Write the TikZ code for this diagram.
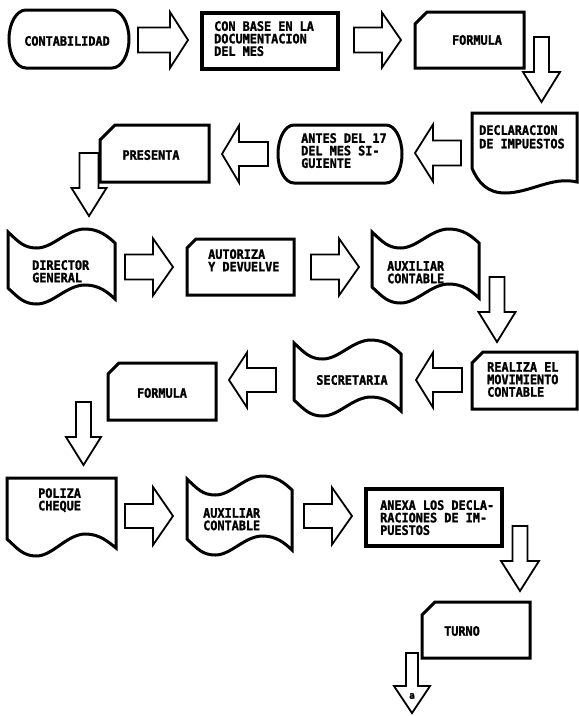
\documentclass[tikz,border=0pt]{standalone}
\usepackage{fontspec}
\newfontfamily\lblfont[FakeStretch=0.91, BoldFeatures={FakeBold=1.6}]{DejaVu Sans Mono}

% block arrow pointing left or right: tail x, head base x, tip x, centre y, shaft half width, head half width
\newcommand\blockH[6]{%
  \draw[arrowline] (#1,#4-#5) -- (#2,#4-#5) -- (#2,#4-#6) -- (#3,#4)
    -- (#2,#4+#6) -- (#2,#4+#5) -- (#1,#4+#5) -- cycle;}
% block arrow pointing down: centre x, tail y, head base y, tip y, shaft half width, head half width
\newcommand\blockV[6]{%
  \draw[arrowline] (#1-#5,#2) -- (#1-#5,#3) -- (#1-#6,#3) -- (#1,#4)
    -- (#1+#6,#3) -- (#1+#5,#3) -- (#1+#5,#2) -- cycle;}
% terminal: x1, y1, x2, y2, depth of the rounded ends
\newcommand\terminal[5]{%
  \pgfmathsetmacro\termym{(#2+#4)/2}
  \pgfmathsetmacro\termyk{0.552*(#4-#2)/2}
  \pgfmathsetmacro\termxk{0.552*#5}
  \draw[boxline] (#1+#5,#2) -- (#3-#5,#2)
    .. controls (#3-#5+\termxk,#2) and (#3,\termym-\termyk) .. (#3,\termym)
    .. controls (#3,\termym+\termyk) and (#3-#5+\termxk,#4) .. (#3-#5,#4)
    -- (#1+#5,#4)
    .. controls (#1+#5-\termxk,#4) and (#1,\termym+\termyk) .. (#1,\termym)
    .. controls (#1,\termym-\termyk) and (#1+#5-\termxk,#2) .. cycle;}
% card with the top left corner cut off: x1, y1, x2, y2, cut
\newcommand\card[5]{%
  \draw[boxline] (#1,#2+#5) -- (#1+#5,#2) -- (#3,#2) -- (#3,#4) -- (#1,#4) -- cycle;}
% punched tape: x1, x2, left top corner y, left bottom corner y
\newcommand\tapeshape[4]{%
  \pgfmathsetmacro\tapew{#2-#1}
  \draw[boxline] (#1,#3)
    .. controls (#1+0.1*\tapew,#3+10) and (#1+0.15*\tapew,#3+16) .. (#1+0.27*\tapew,#3+16)
    .. controls (#1+0.42*\tapew,#3+16) and (#1+0.55*\tapew,#3-3) .. (#1+0.72*\tapew,#3-3)
    .. controls (#1+0.85*\tapew,#3-3) and (#1+0.93*\tapew,#3+4) .. (#2,#3+11)
    -- (#2,#4+11)
    .. controls (#1+0.93*\tapew,#4+4) and (#1+0.85*\tapew,#4-3) .. (#1+0.72*\tapew,#4-3)
    .. controls (#1+0.55*\tapew,#4-3) and (#1+0.42*\tapew,#4+16) .. (#1+0.27*\tapew,#4+16)
    .. controls (#1+0.15*\tapew,#4+16) and (#1+0.1*\tapew,#4+10) .. (#1,#4)
    -- cycle;}
% document: x1, x2, top y, left bottom corner y
\newcommand\docshape[4]{%
  \pgfmathsetmacro\tapew{#2-#1}
  \draw[boxline] (#1,#3) -- (#2,#3) -- (#2,#4+9)
    .. controls (#1+0.93*\tapew,#4+3) and (#1+0.85*\tapew,#4-5) .. (#1+0.72*\tapew,#4-5)
    .. controls (#1+0.55*\tapew,#4-5) and (#1+0.42*\tapew,#4+17) .. (#1+0.27*\tapew,#4+17)
    .. controls (#1+0.15*\tapew,#4+17) and (#1+0.1*\tapew,#4+10) .. (#1,#4)
    -- cycle;}

\begin{document}
\begin{tikzpicture}[x=1pt,y=-1pt,
  boxline/.style={line width=3pt, draw=black},
  procline/.style={line width=3.6pt, draw=black},
  arrowline/.style={line width=1.8pt, draw=black},
  lbl/.style={inner sep=0pt, text=black, align=left,
    font=\lblfont\bfseries\fontsize{13}{#1}\selectfont},
  lbl/.default=12.5,
]
\useasboundingbox (0,0) rectangle (579,716);

% ---- outlines ----
\terminal{9}{10}{129}{68}{17}
\draw[procline] (202,13) rectangle (338,69);
\card{415}{12}{524}{68}{12}
\draw[boxline] (472,113) -- (577,113) -- (577,182)
  .. controls (552,176) and (530,193) .. (505,193)
  .. controls (488,193) and (478,183) .. (472,168) -- cycle;
\terminal{278}{125}{402}{183}{16}
\card{100}{125}{209}{182}{15}
\tapeshape{8}{115}{232}{288}
\card{187}{239}{294}{295}{9}
\tapeshape{372}{479}{232}{287}
\card{472}{352}{577}{409}{11}
\tapeshape{294}{401}{343}{400}
\card{108}{363}{216}{420}{11}
\docshape{7}{116}{478}{539}
\tapeshape{187}{292}{479}{539}
\draw[procline] (366,489) rectangle (502,546);
\card{422}{602}{530}{658}{13}

% ---- block arrows ----
\blockH{138}{170}{188}{40}{12.5}{28}
\blockH{354}{382}{401}{40}{12.5}{27.5}
\blockV{541.5}{37}{72}{102}{7.5}{18.5}
\blockH{461}{433}{415}{153}{12.5}{28.5}
\blockH{268}{239}{222}{154}{12}{28.5}
\blockV{89}{153}{188}{216}{9.5}{17.5}
\blockH{125}{153}{173}{267}{12.5}{28.5}
\blockH{311}{339}{359}{267}{12.5}{28.5}
\blockV{497}{277}{312}{342}{7.5}{18.5}
\blockH{462}{433}{416}{380}{12}{27.5}
\blockH{276}{247}{229}{380}{12}{27.5}
\blockV{83.5}{402}{437}{465}{7.5}{17.5}
\blockH{125}{153}{173}{516}{12}{29}
\blockH{304}{332}{352}{516}{12}{28.5}
\blockV{520}{526}{561}{591}{7.5}{19}
\blockV{412}{653}{686}{713}{6}{18}

% ---- labels ----
\node[lbl] (contab) at (67,41) {CONTABILIDAD};
\node[lbl, anchor=north west] (conbase) at (214,21) {CON BASE EN LA\\DOCUMENTACION\\DEL MES};
\node[lbl] (form1) at (477,40) {FORMULA};
\node[lbl=13.5, anchor=north west] (declar) at (479,125) {DECLARACION\\DE IMPUESTOS};
\node[lbl, anchor=north west] (antes) at (301,133) {ANTES DEL 17\\DEL MES SI-\\GUIENTE};
\node[lbl] (presenta) at (151,155) {PRESENTA};
\node[lbl, anchor=north west] (director) at (32,260) {DIRECTOR\\GENERAL};
\node[lbl, anchor=north west] (autoriza) at (208,249) {AUTORIZA\\Y DEVUELVE};
\node[lbl, anchor=north west] (aux1) at (387,261) {AUXILIAR\\CONTABLE};
\node[lbl, anchor=north west] (realiza) at (487,362) {REALIZA EL\\MOVIMIENTO\\CONTABLE};
\node[lbl] (secret) at (352,380) {SECRETARIA};
\node[lbl] (form2) at (162,393) {FORMULA};
\node[lbl, anchor=north west] (poliza) at (38,488) {POLIZA\\CHEQUE};
\node[lbl, anchor=north west] (aux2) at (203,508) {AUXILIAR\\CONTABLE};
\node[lbl, anchor=north west] (anexa) at (380,500) {ANEXA LOS DECLA-\\RACIONES DE IM-\\PUESTOS};
\node[lbl] (turno) at (462,631) {TURNO};
\node[lbl, font=\lblfont\bfseries\fontsize{10}{10}\selectfont] (conn) at (412,696) {a};
\end{tikzpicture}
\end{document}
